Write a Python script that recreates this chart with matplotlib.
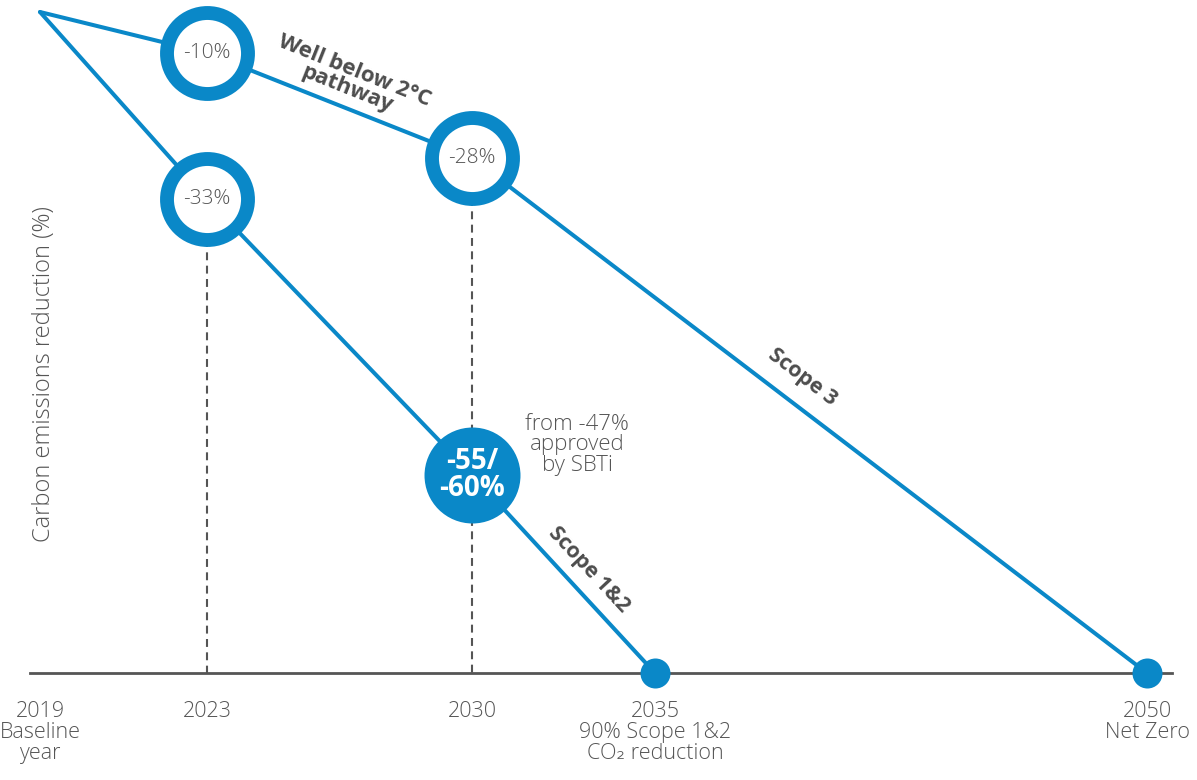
import numpy as np
import matplotlib.pyplot as plt

plt.rcParams['font.family'] = ['Open Sans', 'DejaVu Sans']

# x axis milestones
years = [2019, 2023, 2030, 2035, 2050]
year_labels = ['2019\nBaseline\nyear', '2023', '2030',
               '2035\n90% Scope 1&2\nCO\u2082 reduction', '2050\nNet Zero']

# pathways (depth = how far down the schematic the point sits, 0 = baseline, 100 = zero emissions)
scope3_years = [2019, 2023, 2030, 2050]
scope3_depth = [0, 6.2, 22.1, 100]
scope12_years = [2019, 2023, 2030, 2035]
scope12_depth = [0, 28.3, 70.0, 100]

# milestone circles
ring_years = [2023, 2030, 2023]
ring_depth = [scope3_depth[1], scope3_depth[2], scope12_depth[1]]
ring_labels = ['-10%', '-28%', '-33%']
target_year = scope12_years[2]
target_depth = scope12_depth[2]
target_label = '-55/\n-60%'
end_years = [scope12_years[-1], scope3_years[-1]]
end_depth = [scope12_depth[-1], scope3_depth[-1]]

blue = '#0a88c8'
grey = '#555555'

# the schematic is not to scale in time: piecewise mapping of years
anchor_years = [1990, 2019, 2023, 2030, 2035, 2050, 2080]
anchor_px = [-1171, 40, 207, 472, 655, 1147, 2131]
def fwd(x):
    return np.interp(x, anchor_years, anchor_px)
def inv(p):
    return np.interp(p, anchor_px, anchor_years)

fig = plt.figure(figsize=(11.97, 7.8), dpi=100)
ax = fig.add_axes([30/1197, 107/780, 1142/1197, 673/780])
ax.set_xscale('function', functions=(fwd, inv))
ax.set_xlim(inv(30), inv(1172))
ax.set_ylim(100, -12/6.61)

# dashed guides
ax.vlines([ring_years[2], ring_years[1]], [ring_depth[2], ring_depth[1]], 100,
          colors=grey, linewidth=1.5, linestyles=(0, (3.8, 2.6)), zorder=1)

ax.plot(scope3_years, scope3_depth, color=blue, lw=2.9, zorder=2,
        solid_capstyle='round', solid_joinstyle='round')
ax.plot(scope12_years, scope12_depth, color=blue, lw=2.9, zorder=2,
        solid_capstyle='round', solid_joinstyle='round')

ax.scatter(ring_years, ring_depth, s=3400, facecolor='white', edgecolor=blue,
           linewidth=10, zorder=3)
for x, y, t in zip(ring_years, ring_depth, ring_labels):
    ax.text(x, y, t, ha='center', va='center', fontsize=15, color=grey,
            fontweight='light', zorder=4)

ax.scatter([target_year], [target_depth], s=4776, color=blue, zorder=3, linewidth=0)
ax.text(target_year, target_depth, target_label, ha='center', va='center',
        fontsize=20, color='white', fontweight='bold', linespacing=0.9, zorder=4)

ax.scatter(end_years, end_depth, s=467, color=blue, zorder=5, linewidth=0, clip_on=False)

# annotations
ax.text(2026.8, 10.3, 'Well below 2°C\npathway', ha='center', va='center',
        rotation=-21.7, rotation_mode='anchor', fontsize=16, fontweight='bold',
        color='#4d4d4d', linespacing=0.9)
ax.text(2039.5, 55.2, 'Scope 3', ha='center', va='center', rotation=-37.4,
        rotation_mode='anchor', fontsize=15.5, fontweight='bold', color='#4d4d4d')
ax.text(2033.2, 84.4, 'Scope 1&2', ha='center', va='center', rotation=-47,
        rotation_mode='anchor', fontsize=15.5, fontweight='bold', color='#4d4d4d')
ax.text(2032.87, 65.5, 'from -47%\napproved\nby SBTi', ha='center', va='center',
        fontsize=16, color=grey, fontweight='light', linespacing=0.95)

fig.text(44/1197, 1 - 374/780, 'Carbon emissions reduction (%)', rotation=90,
         ha='center', va='center', fontsize=17, color=grey, fontweight='light')

ax.set_xticks(years)
ax.set_xticklabels(year_labels, fontsize=15.5, color=grey, fontweight='light',
                   linespacing=1.0)
ax.xaxis.set_minor_locator(plt.NullLocator())
ax.tick_params(axis='x', length=0, pad=20)
ax.set_yticks([])
for s in ['top', 'left', 'right']:
    ax.spines[s].set_visible(False)
ax.spines['bottom'].set_color(grey)
ax.spines['bottom'].set_linewidth(2)
ax.patch.set_alpha(0)

fig.savefig('out.png', dpi=100)
